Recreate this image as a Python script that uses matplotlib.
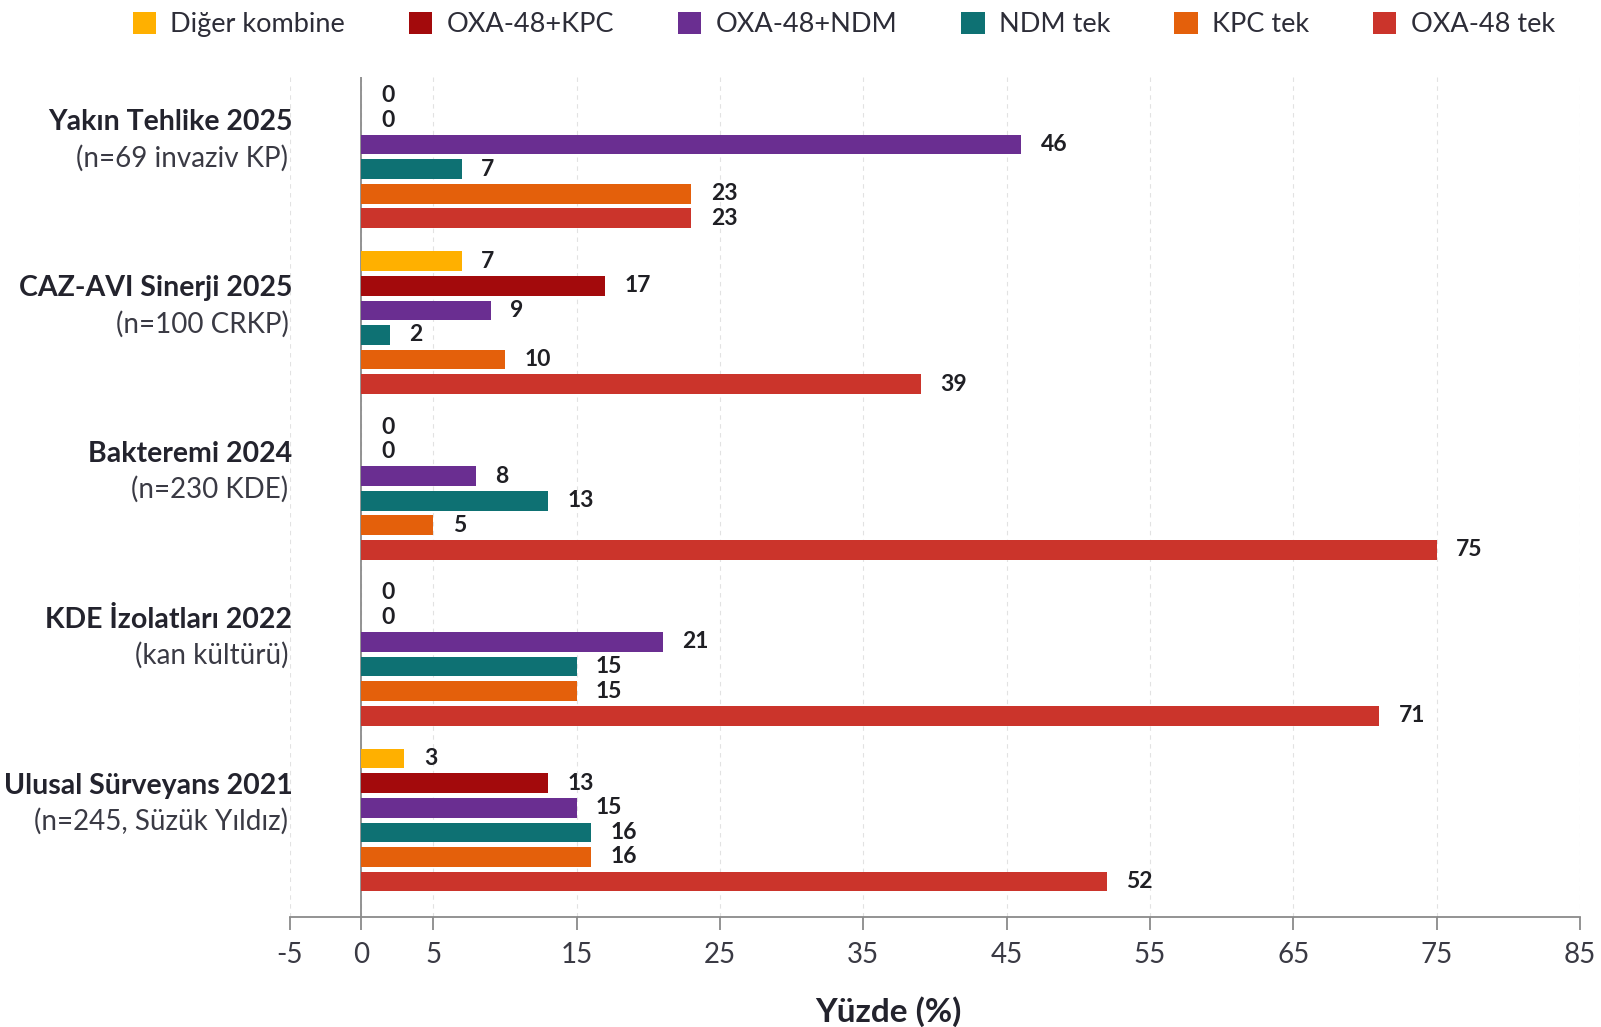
import numpy as np
import matplotlib
matplotlib.use("Agg")
import matplotlib.pyplot as plt
from matplotlib.patches import Patch

plt.rcParams['font.family'] = ['Lato', 'DejaVu Sans']

# studies, top to bottom
study_titles = ["Yakın Tehlike 2025", "CAZ-AVI Sinerji 2025", "Bakteremi 2024",
                "KDE İzolatları 2022", "Ulusal Sürveyans 2021"]
study_notes = ["(n=69 invaziv KP)", "(n=100 CRKP)", "(n=230 KDE)",
               "(kan kültürü)", "(n=245, Süzük Yıldız)"]

# carbapenemase groups, in drawing order inside each study
series_names = ["Diğer kombine", "OXA-48+KPC", "OXA-48+NDM", "NDM tek", "KPC tek", "OXA-48 tek"]
series_colors = ["#FFB000", "#A30A0C", "#6A2E91", "#0E7173", "#E4600B", "#CB342B"]

# percentages per study (same order as study_titles)
diger_kombine = [0, 7, 0, 0, 3]
oxa_kpc = [0, 17, 0, 0, 13]
oxa_ndm = [46, 9, 8, 21, 15]
ndm_tek = [7, 2, 13, 15, 16]
kpc_tek = [23, 10, 5, 15, 16]
oxa_tek = [23, 39, 75, 71, 52]
all_series = [diger_kombine, oxa_kpc, oxa_ndm, ndm_tek, kpc_tek, oxa_tek]

x_ticks = [-5, 0, 5, 15, 25, 35, 45, 55, 65, 75, 85]

fig = plt.figure(figsize=(16.01, 10.27), dpi=100)
ax = fig.add_axes([0.181, 0.107, 0.806, 0.818])

group_step = 6.75
bar_h = 0.8
centers = np.arange(len(study_titles)) * group_step

for j, (vals, col) in enumerate(zip(all_series, series_colors)):
    ys = centers + (j - 2.5)
    ax.barh(ys, vals, height=bar_h, color=col, zorder=3)
    for y, v in zip(ys, vals):
        ax.annotate(f"{v}", (v, y), xytext=(14, 0), textcoords="offset points",
                    ha="left", va="center", fontsize=16.5, fontweight="bold",
                    color="#1f1f24", zorder=4)

# study labels on the left
for c, t, n in zip(centers, study_titles, study_notes):
    ax.text(0.002, c - 1.4, t, transform=ax.get_yaxis_transform(), ha="right",
            va="center", fontsize=20.5, fontweight="bold", color="#23232d")
    ax.text(-0.001, c + 0.05, n, transform=ax.get_yaxis_transform(), ha="right",
            va="center", fontsize=20, color="#3a3a44")

ax.set_xlim(-5, 85)
ax.set_ylim(centers[-1] + 2.5 + 1.45, -2.5 - 0.75)
ax.set_xticks(x_ticks)
ax.set_xticklabels([str(t) for t in x_ticks])
ax.set_yticks([])
ax.tick_params(axis="x", length=9, width=1.3, color="#8a8a8a", pad=9,
               labelsize=20, labelcolor="#3a3a44")

for s in ["top", "right", "left"]:
    ax.spines[s].set_visible(False)
ax.spines["bottom"].set_color("#8a8a8a")
ax.spines["bottom"].set_linewidth(1.3)
ax.axvline(0, color="#8a8a8a", lw=1.3, zorder=2)
ax.grid(axis="x", linestyle=(0, (4, 4)), color="#e2e2e2", lw=0.8, zorder=0)

ax.set_xlabel("Yüzde (%)", fontsize=24, fontweight="bold", color="#23232d")
ax.xaxis.set_label_coords(0.464, -0.094)

handles = [Patch(facecolor=c, edgecolor="none") for c in series_colors]
fig.legend(handles, series_names, loc="center", bbox_to_anchor=(0.527, 0.976),
           ncol=6, frameon=False, fontsize=19.5, handlelength=0.87, handleheight=0.87,
           handletextpad=0.53, columnspacing=2.35, labelcolor="#2d2d38")

fig.savefig("out.png", dpi=100, facecolor="white")
